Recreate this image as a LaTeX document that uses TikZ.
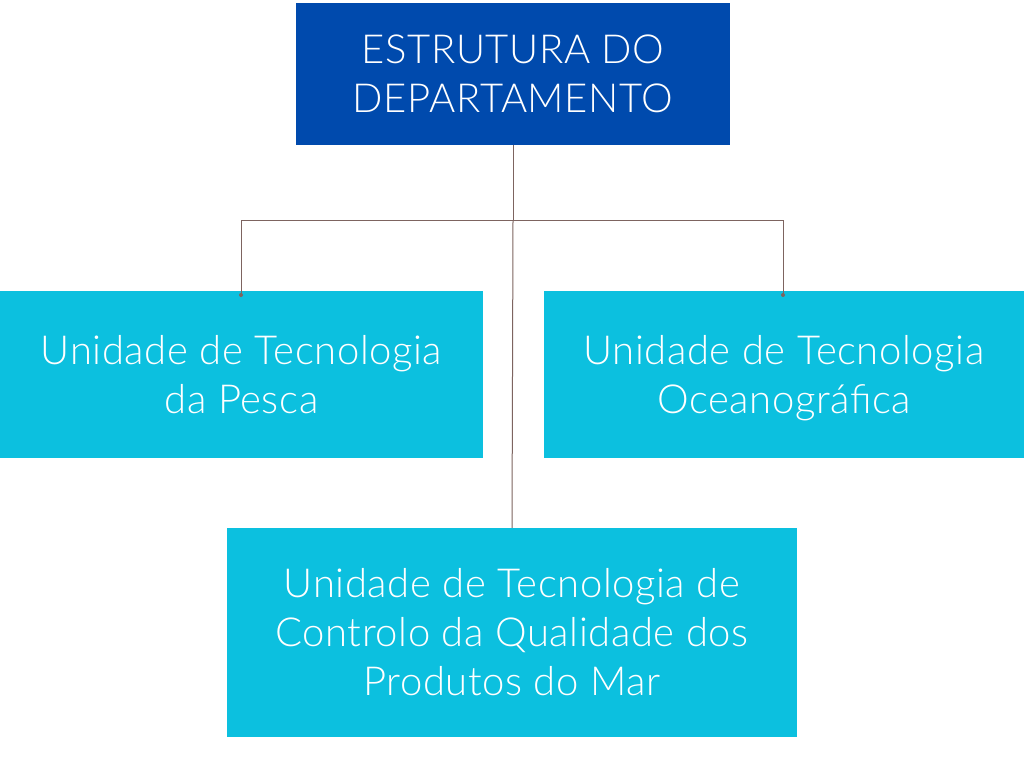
\documentclass[tikz,border=0pt]{standalone}
\usepackage{fontspec}
\setmainfont{Lato}[UprightFont={* Light},LetterSpace=1.5]
\definecolor{topblue}{RGB}{0,74,173}
\definecolor{cyanbox}{RGB}{12,192,223}
\definecolor{conn}{RGB}{125,100,96}
\newcommand\bstrut{\rule[-0.22em]{0pt}{1.15em}}
\begin{document}
\begin{tikzpicture}[x=1pt,y=-1pt,
  box/.style={fill=#1,draw=none,inner sep=0pt,text=white,align=center,
    font=\fontsize{40}{49}\selectfont},
  link/.style={draw=conn,line width=1pt},
  enddot/.style={fill=conn,draw=none}]
\useasboundingbox[fill=white] (0,0) rectangle (1024,768);
\node[box=topblue,minimum width=434pt,minimum height=142pt] (top) at (513,74) {\bstrut ESTRUTURA DO\\\bstrut DEPARTAMENTO};
\node[box=cyanbox,minimum width=483pt,minimum height=167pt] (left) at (241.5,374.5) {\bstrut Unidade de Tecnologia\\\bstrut da Pesca};
\node[box=cyanbox,minimum width=480pt,minimum height=167pt] (right) at (784,374.5) {\bstrut Unidade de Tecnologia\\\bstrut Oceanográfica};
\node[box=cyanbox,minimum width=570pt,minimum height=209pt] (bottom) at (512,632.5) {\bstrut Unidade de Tecnologia de\\\bstrut Controlo da Qualidade dos\\\bstrut Produtos do Mar};
\coordinate (hub) at (513,220);
\coordinate (lend) at (241,295);
\coordinate (rend) at (783,295);
\draw[link] (top.south) -- (hub);
\draw[link] (hub) -- (bottom.north);
\draw[link] (lend) -- (lend |- hub) -- (rend |- hub) -- (rend);
\fill[enddot] (lend) circle (2pt);
\fill[enddot] (rend) circle (2pt);
\end{tikzpicture}
\end{document}
